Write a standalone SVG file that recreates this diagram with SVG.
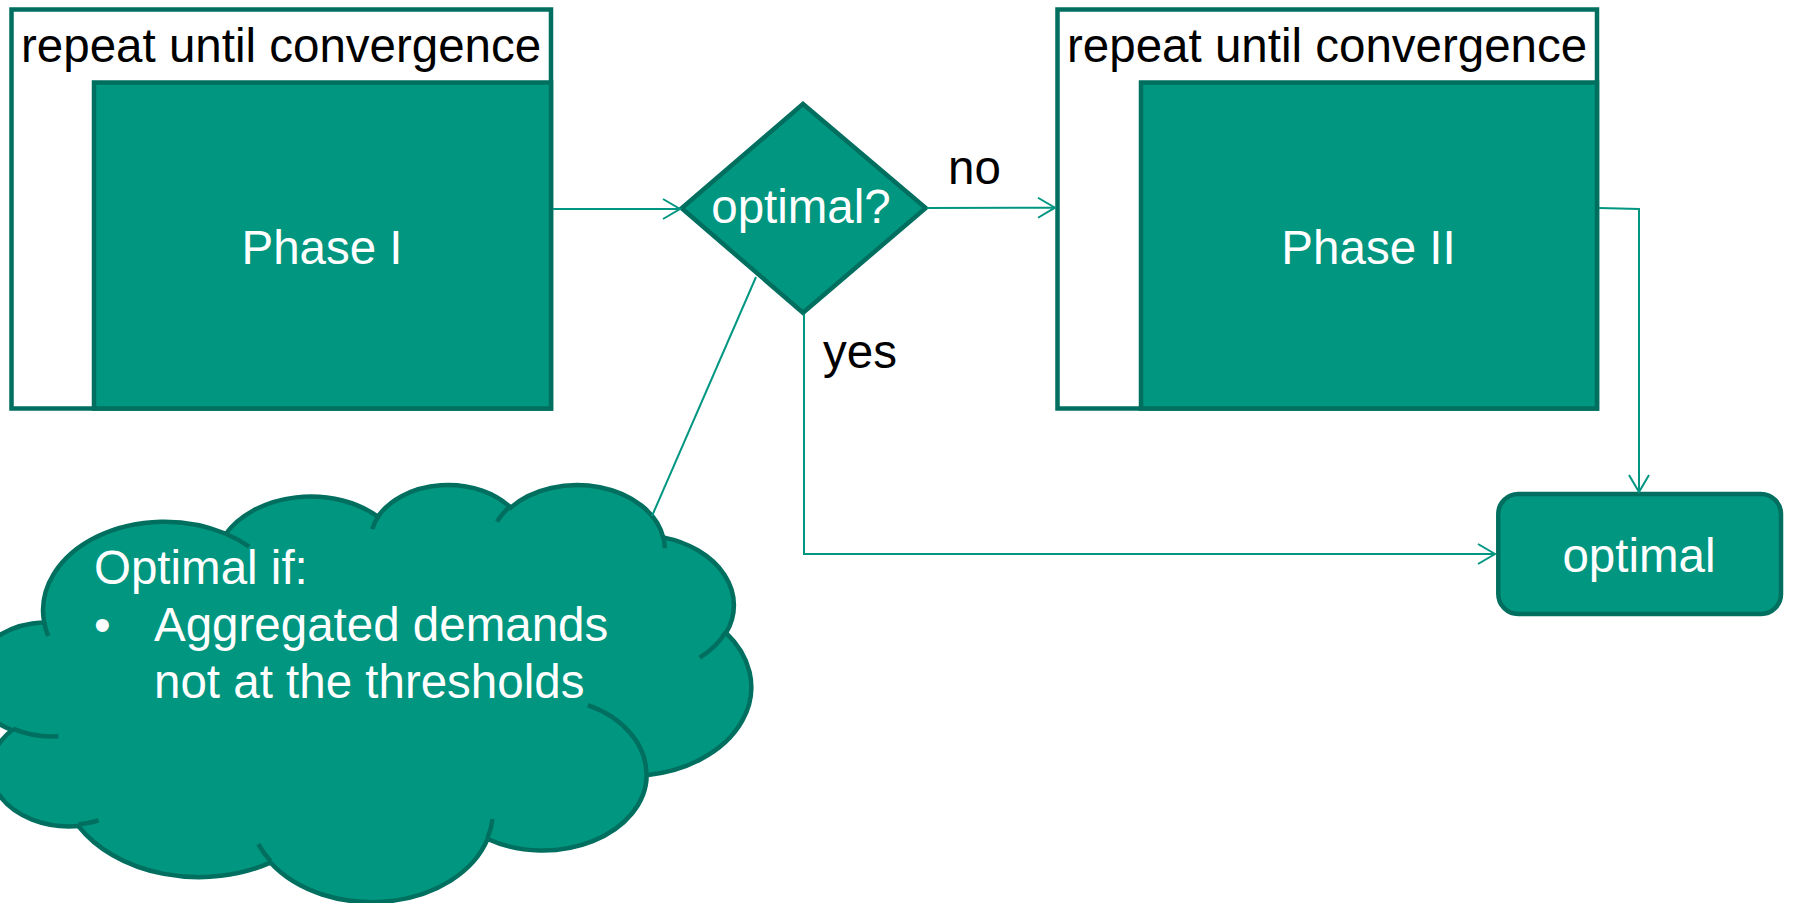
<svg xmlns="http://www.w3.org/2000/svg" width="1793" height="903" viewBox="0 0 1793 903">
<style>
  text { font-family: "Liberation Sans", Arial, sans-serif; font-size: 47.5px; }
  .dark { fill: #000000; }
  .light { fill: #ffffff; }
  .frame { fill: #ffffff; stroke: #006F5F; stroke-width: 4.5; }
  .node { fill: #00967F; stroke: #006F5F; stroke-width: 4.5; }
  .crease { fill: none; stroke: #006F5F; stroke-width: 4.5; }
  .conn { fill: none; stroke: #009682; stroke-width: 2; }
</style>
<defs>
  <marker id="arrow" markerUnits="userSpaceOnUse" markerWidth="24" markerHeight="24" viewBox="0 0 24 24" refX="18" refY="12" orient="auto">
    <path d="M1,2 L18,12 L1,22" fill="none" stroke="#009682" stroke-width="2"/>
  </marker>
</defs>

<g id="loop1">
  <rect class="frame" x="11.5" y="9.5" width="539.5" height="399"/>
  <text class="dark" x="21" y="61.5">repeat until convergence</text>
</g>
<g id="phase1">
  <rect class="node" x="94" y="82.5" width="457" height="326"/>
  <text class="light" x="322" y="263.5" text-anchor="middle">Phase I</text>
</g>

<g id="decision">
  <polygon class="node" points="681.7,208.3 803,104 925.7,208 803,312.7"/>
  <text class="light" x="801" y="222.5" text-anchor="middle">optimal?</text>
</g>

<g id="loop2">
  <rect class="frame" x="1057.5" y="9.5" width="539.5" height="399"/>
  <text class="dark" x="1067" y="61.5">repeat until convergence</text>
</g>
<g id="phase2">
  <rect class="node" x="1141" y="82.5" width="456" height="326"/>
  <text class="light" x="1368.5" y="263.5" text-anchor="middle">Phase II</text>
</g>

<g id="optimal">
  <rect class="node" x="1498.3" y="494" width="282.7" height="120" rx="20" ry="20"/>
  <text class="light" x="1639" y="572" text-anchor="middle">optimal</text>
</g>

<g id="cloud">
  <path class="node" d="M44.15,622.3 A121.46,88.71 0 0 1 225.9,533.8 A95.92,70.15 0 0 1 377.9,516.7 A78.51,57.39 0 0 1 510.6,507.6 A87.36,63.66 0 0 1 663.2,537.4 A95.92,70.21 0 0 1 726.1,632.9 A121.86,89 0 0 1 646.7,775.2 A104.05,75.94 0 0 1 487.6,839 A121.44,88.95 0 0 1 270.4,862.6 A138.85,101.77 0 0 1 78.4,826 A78.42,57.13 0 0 1 12,730.2 A78.15,57.39 0 0 1 44.15,622.3 Z"/>
  <path class="crease" d="M58.4,736.3 A78.15,57.39 0 0 1 12.85,728.6 M98.6,820.5 A78.42,57.13 0 0 1 78.67,824.2 M270.4,860.9 A121.44,88.95 0 0 1 258.4,844.1 M492.5,819.1 A121.46,88.71 0 0 1 487.7,837.5 M587.8,705.2 A104.05,75.94 0 0 1 646.3,774.1 M725.8,631.8 A95.92,70.21 0 0 1 699.7,657.6 M663.3,536 A87.36,63.66 0 0 1 664.7,548.2 M497,521.7 A87.36,63.66 0 0 1 510.3,506.2 M372.2,529.2 A78.51,57.39 0 0 1 378.7,515.8 M225.8,533.7 A121.46,88.71 0 0 1 249.2,546.7 M48.2,636 A121.46,88.71 0 0 1 44.15,622.3"/>
  <text class="light" x="94" y="584">Optimal if:</text>
  <text class="light" x="94" y="641">•</text>
  <text class="light" x="154" y="641">Aggregated demands</text>
  <text class="light" x="154" y="698">not at the thresholds</text>
</g>

<g id="connectors">
  <line class="conn" x1="553" y1="209" x2="680" y2="209" marker-end="url(#arrow)"/>
  <line class="conn" x1="927" y1="208" x2="1055" y2="207.7" marker-end="url(#arrow)"/>
  <polyline class="conn" points="1599,208 1639,209 1639,492" marker-end="url(#arrow)"/>
  <polyline class="conn" points="804,314 804,554 1495,554" marker-end="url(#arrow)"/>
  <line class="conn" x1="756" y1="277" x2="652" y2="516"/>
  <text class="dark" x="948" y="184">no</text>
  <text class="dark" x="823" y="368">yes</text>
</g>
</svg>
